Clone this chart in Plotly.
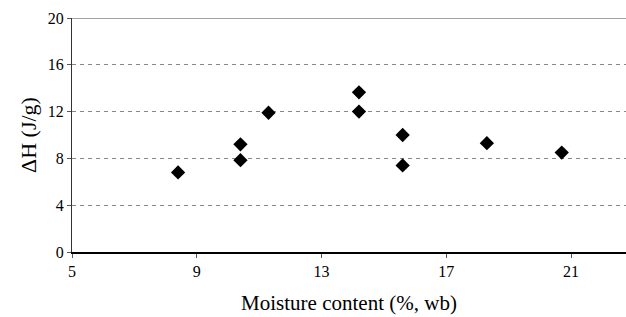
import plotly.graph_objects as go

moisture = [8.4, 10.4, 10.4, 11.3, 14.2, 14.2, 15.6, 15.6, 18.3, 20.7]
delta_h = [6.8, 9.2, 7.85, 11.9, 13.65, 12.0, 10.0, 7.4, 9.3, 8.5]

x_ticks = [5, 9, 13, 17, 21]
y_ticks = [0, 4, 8, 12, 16, 20]

fig = go.Figure()
fig.add_trace(go.Scatter(
    x=moisture, y=delta_h, mode="markers",
    marker=dict(symbol="diamond", size=11, color="black"),
    showlegend=False,
))

font = dict(family="Liberation Serif, Times New Roman, serif", color="black")

fig.update_layout(
    width=626, height=317,
    margin=dict(l=72, r=0, t=18, b=65),
    paper_bgcolor="white", plot_bgcolor="white",
    font=dict(**font, size=16),
    xaxis=dict(
        range=[5, 22.76], tickvals=x_ticks, ticks="outside", ticklen=4,
        tickcolor="#555555", showline=True, linecolor="black", linewidth=1.5,
        showgrid=False, zeroline=False, mirror=False,
        tickfont=dict(**font, size=16),
        title=dict(text="Moisture content (%, wb)", font=dict(**font, size=21), standoff=16),
    ),
    yaxis=dict(
        range=[0, 20], tickvals=y_ticks, ticks="outside", ticklen=4,
        tickcolor="#555555", showline=True, linecolor="#333333", linewidth=1,
        showgrid=True, gridcolor="#888888", griddash="4px,4px", gridwidth=1,
        zeroline=False,
        tickfont=dict(**font, size=16),
        title=dict(text="ΔH (J/g)", font=dict(**font, size=22), standoff=5),
    ),
)
fig.add_shape(type="line", xref="paper", yref="y", x0=0, x1=1, y0=20, y1=20,
              line=dict(color="#444444", width=1.2))

fig.write_html("out.html", config={"displayModeBar": False},
               post_script="document.body.style.margin='0';document.body.style.overflow='hidden';")
